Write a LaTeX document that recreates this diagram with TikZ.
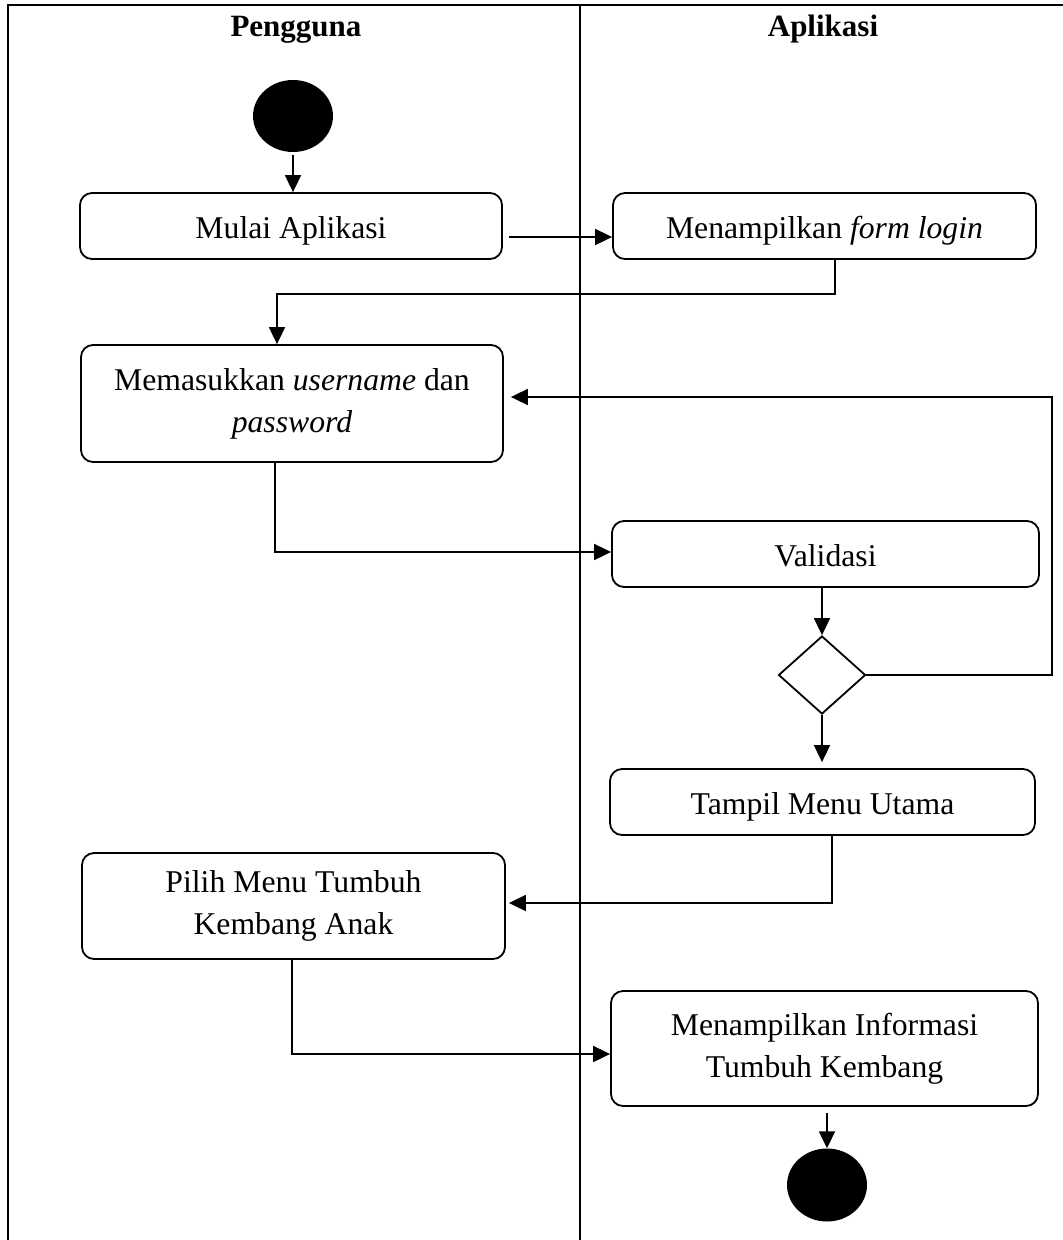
\documentclass[tikz,border=0pt]{standalone}
\usepackage{fontspec}
\setmainfont{Liberation Serif}
\usetikzlibrary{shapes.geometric,arrows.meta}
\begin{document}
\begin{tikzpicture}[x=1pt,y=-1pt,
  every node/.style={font=\fontsize{31.7}{42}\selectfont},
  act/.style={draw,line width=1.8pt,rounded corners=12pt,align=center,inner sep=0pt},
  oneline/.style={text height=24pt,text depth=0pt},
  blob/.style={ellipse,fill=black,draw=none,inner sep=0pt},
  arr/.style={line width=1.8pt,-{Triangle[length=17pt,width=16pt]}},
  ln/.style={line width=1.8pt},
  head/.style={font=\fontsize{31}{37}\selectfont\bfseries,anchor=base}]
\useasboundingbox (0,0) rectangle (1063,1240);
% frame
\draw[ln] (8,1240) -- (8,5) -- (1063,5);
\draw[ln] (580,5) -- (580,1240);
\node[head] (h1) at (296,36) {Pengguna};
\node[head] (h2) at (823,36) {Aplikasi};
% nodes
\node[blob,minimum width=80pt,minimum height=72pt] (start) at (293,116) {};
\node[act,oneline,minimum width=422pt,minimum height=66pt] (mulai) at (291,226) {Mulai Aplikasi};
\node[act,oneline,minimum width=423pt,minimum height=66pt] (login) at (824.5,226) {Menampilkan \textit{form login}};
\node[act,minimum width=422pt,minimum height=117pt] (masuk) at (292,403.5) {Memasukkan \textit{username} dan\\\textit{password}};
\node[act,oneline,minimum width=427pt,minimum height=66pt] (valid) at (825.5,554) {Validasi};
\node[diamond,draw,line width=1.8pt,minimum width=87pt,minimum height=78pt,inner sep=0pt] (dec) at (822,675) {};
\node[act,oneline,minimum width=425pt,minimum height=66pt] (utama) at (822.5,802) {Tampil Menu Utama};
\node[act,minimum width=423pt,minimum height=106pt] (pilih) at (293.5,906) {Pilih Menu Tumbuh\\Kembang Anak};
\node[act,minimum width=427pt,minimum height=115pt] (info) at (824.5,1048.5) {Menampilkan Informasi\\Tumbuh Kembang};
\node[blob,minimum width=80pt,minimum height=73pt] (end) at (827,1185) {};
% helper coordinates
\coordinate (k1) at (835,294);
\coordinate (k2) at (277,294);
\coordinate (k3) at (1052,397);
\coordinate (k4) at (275,552);
\coordinate (k5) at (832,903);
\coordinate (k6) at (292,1054);
% connectors
\draw[arr,shorten <=3pt] (start) -- (mulai.north -| start.south);
\draw[arr,shorten <=6pt] (mulai.east |- 0,237) -- (login.west |- 0,237);
\draw[arr] (login.south -| k1) -- (k1) -- (k2) -- (masuk.north -| k2);
\draw[arr,shorten >=7pt] (dec.east) -| (k3) -- (masuk.east |- k3);
\draw[arr] (masuk.south -| k4) -- (k4) -- (valid.west |- k4);
\draw[arr] (valid.south -| dec.north) -- (dec.north);
\draw[arr,shorten >=6pt] (dec.south) -- (utama.north -| dec.south);
\draw[arr,shorten >=3pt] (utama.south -| k5) -- (k5) -- (pilih.east |- k5);
\draw[arr] (pilih.south -| k6) -- (k6) -- (info.west |- k6);
\draw[arr,shorten <=6pt] (info.south -| end.north) -- (end.north);
\end{tikzpicture}
\end{document}
